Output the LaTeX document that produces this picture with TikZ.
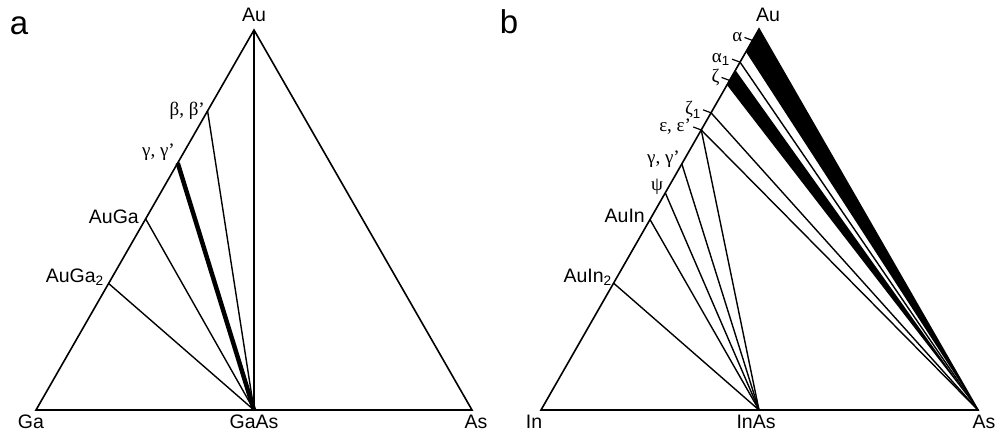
\documentclass[tikz,border=0pt]{standalone}
\usepackage{fontspec}
\setmainfont{Liberation Sans}
\newfontfamily\greekfont{Liberation Serif}
\usetikzlibrary{calc,positioning}

\begin{document}
\begin{tikzpicture}[x=1pt, y=-1pt,
    side/.style={line width=1.6pt, line join=miter},
    tie/.style={line width=1.4pt},
    tick/.style={line width=1.2pt},
    phase/.style={font=\fontsize{19.5}{22}\selectfont, inner sep=0pt},
    greek/.style={font=\greekfont\fontsize{19}{21}\selectfont, inner sep=0pt},
    panel/.style={font=\fontsize{33}{36}\selectfont, inner sep=0pt}]
    \useasboundingbox (0,0) rectangle (998,439);

    % panel a: Au-Ga-As
    \coordinate (Ga)   at (36,410);
    \coordinate (GaAs) at (254,410);
    \coordinate (AsA)  at (472,410);
    \coordinate (AuA)  at (254,30);
    \coordinate (AuGaII) at ($(Ga)!0.333!(AuA)$);
    \coordinate (AuGa)   at ($(Ga)!0.503!(AuA)$);
    \coordinate (GamA)   at ($(Ga)!0.650!(AuA)$);
    \coordinate (BetA)   at ($(Ga)!0.787!(AuA)$);

    \draw[side] (Ga) -- (AuA) -- (AsA) -- cycle;
    \draw[tie] (AuA) -- (GaAs);
    \foreach \p in {AuGaII, AuGa, BetA} \draw[tie] (\p) -- (GaAs);
    \draw[line width=4.5pt] (GamA) -- (GaAs);

    \node[panel] (labA) at (19,26) {a};
    \node[phase] (labAuA) at (254,15) {Au};
    \node[phase] (labGa) at (31,422) {Ga};
    \node[phase] (labGaAs) at (254,422) {GaAs};
    \node[phase] (labAsA) at (476,422) {As};
    \node[phase, anchor=east] (labAuGaII) at (104,277) {AuGa\textsubscript{2}};
    \node[phase, anchor=east] (labAuGa) at (139,217) {AuGa};
    \node[greek, anchor=east] (labGamA) at (175,152) {γ, γ’};
    \node[greek, anchor=east] (labBetA) at (205,111) {β, β’};

    % panel b: Au-In-As
    \coordinate (In)   at (541,410);
    \coordinate (InAs) at (759,410);
    \coordinate (AsB)  at (978,410);
    \coordinate (AuB)  at (759,29);
    \coordinate (AuInII) at ($(In)!0.333!(AuB)$);
    \coordinate (AuIn)   at ($(In)!0.500!(AuB)$);
    \coordinate (Psi)    at ($(In)!0.570!(AuB)$);
    \coordinate (GamB)   at ($(In)!0.646!(AuB)$);
    \coordinate (Eps)    at ($(In)!0.735!(AuB)$);
    \coordinate (ZetI)   at ($(In)!0.780!(AuB)$);
    \coordinate (ZetLo)  at ($(In)!0.853!(AuB)$);
    \coordinate (ZetHi)  at ($(In)!0.892!(AuB)$);
    \coordinate (Zet)    at ($(In)!0.865!(AuB)$);
    \coordinate (AlpI)   at ($(In)!0.913!(AuB)$);
    \coordinate (AlpLo)  at ($(In)!0.940!(AuB)$);
    \coordinate (Alp)    at ($(In)!0.970!(AuB)$);

    \fill (AuB) -- (AlpLo) -- (AsB) -- cycle;
    \fill (ZetHi) -- (ZetLo) -- (AsB) -- cycle;
    \draw[side] (In) -- (AuB) -- (AsB) -- cycle;
    \foreach \p in {AuInII, AuIn, Psi, GamB, Eps} \draw[tie] (\p) -- (InAs);
    \foreach \p in {Eps, ZetI, AlpI} \draw[tie] (\p) -- (AsB);

    % leader ticks
    \foreach \p in {Alp, AlpI, Zet, ZetI, Eps}
      \draw[tick] (\p) -- ++(-8,-3) coordinate (t\p);

    \node[panel] (labB) at (509,22) {b};
    \node[phase] (labAuB) at (768,15) {Au};
    \node[phase] (labIn) at (534,422) {In};
    \node[phase] (labInAs) at (756,422) {InAs};
    \node[phase] (labAsB) at (984,422) {As};
    \node[phase, anchor=east] (labAuInII) at (612,277) {AuIn\textsubscript{2}};
    \node[phase, anchor=east] (labAuIn) at (645,216) {AuIn};
    \node[greek] (labPsi) at (657,187) {ψ};
    \node[greek, anchor=east] (labGamB) at (680,159) {γ, γ’};
    \node[greek, anchor=east] (labEps) at ([xshift=-2pt]tEps) {ε, ε’};
    \node[greek, anchor=east] (labZetI) at ([xshift=-2pt]tZetI) {ζ{\rmfamily\textsubscript{1}}};
    \node[greek, anchor=east] (labZet) at ([xshift=-2pt]tZet) {ζ};
    \node[greek, anchor=east] (labAlpI) at ([xshift=-2pt]tAlpI) {α{\rmfamily\textsubscript{1}}};
    \node[greek, anchor=east] (labAlp) at ([xshift=-2pt]tAlp) {α};
\end{tikzpicture}
\end{document}
